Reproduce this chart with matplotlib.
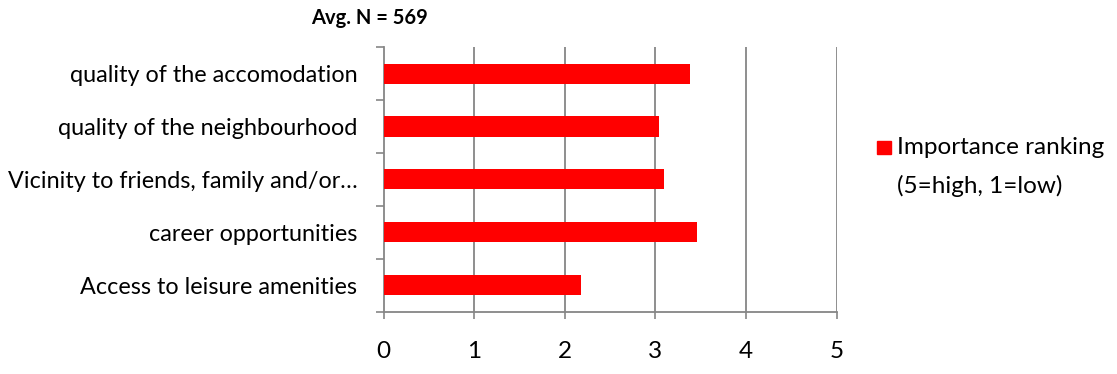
import matplotlib
matplotlib.use("Agg")
import matplotlib.pyplot as plt
from matplotlib.patches import Rectangle
import numpy as np

categories = [
    "quality of the accomodation",
    "quality of the neighbourhood",
    "Vicinity to friends, family and/or\u2026",
    "career opportunities",
    "Access to leisure amenities",
]
ranking = [3.38, 3.04, 3.09, 3.46, 2.18]
series_name = "Importance ranking\n(5=high, 1=low)"
title = "Avg. N = 569"

plt.rcParams["font.family"] = ["Lato", "DejaVu Sans"]
grid_col = "#868686"
red = "#ff0000"
W, H = 1117, 374

fig = plt.figure(figsize=(11.17, 3.74), dpi=100)
ax = fig.add_axes([0.3435, 0.1666, 0.4055, 0.7074])

y = np.arange(len(categories))[::-1]
ax.barh(y, ranking, height=0.38, color=red, zorder=3)

ax.set_xlim(0, 5)
ax.set_ylim(-0.5, len(categories) - 0.5)
ax.set_xticks(range(6))
ax.set_xticklabels([str(i) for i in range(6)], fontsize=17.5)
ax.tick_params(axis="x", length=5, color=grid_col, width=1.2, pad=16)

ax.set_yticks(y)
ax.set_yticklabels(categories, fontsize=16.8)
ax.tick_params(axis="y", length=0, pad=19)
ax.set_yticks(np.arange(-0.5, len(categories)), minor=True)
ax.tick_params(axis="y", which="minor", length=6, color=grid_col, width=1.2)

for v in range(1, 6):
    ax.axvline(v, color=grid_col, lw=1.3, zorder=1)

for s in ["top", "right"]:
    ax.spines[s].set_visible(False)
for s in ["left", "bottom"]:
    ax.spines[s].set_color(grid_col)
    ax.spines[s].set_linewidth(1.3)

fig.text(0.331, 0.952, title, ha="center", va="center", fontsize=14.5, fontweight="bold")

# legend drawn by hand so the two label lines get the wide spacing of the original
fig.patches.append(Rectangle((877 / W, 1 - 154 / H), 14 / W, 13 / H,
                             transform=fig.transFigure, color=red, figure=fig))
for i, line in enumerate(series_name.split("\n")):
    fig.text(897 / W, 1 - (147 + 39 * i) / H, line, ha="left", va="center", fontsize=17.5)

fig.savefig("out.png", dpi=100)
